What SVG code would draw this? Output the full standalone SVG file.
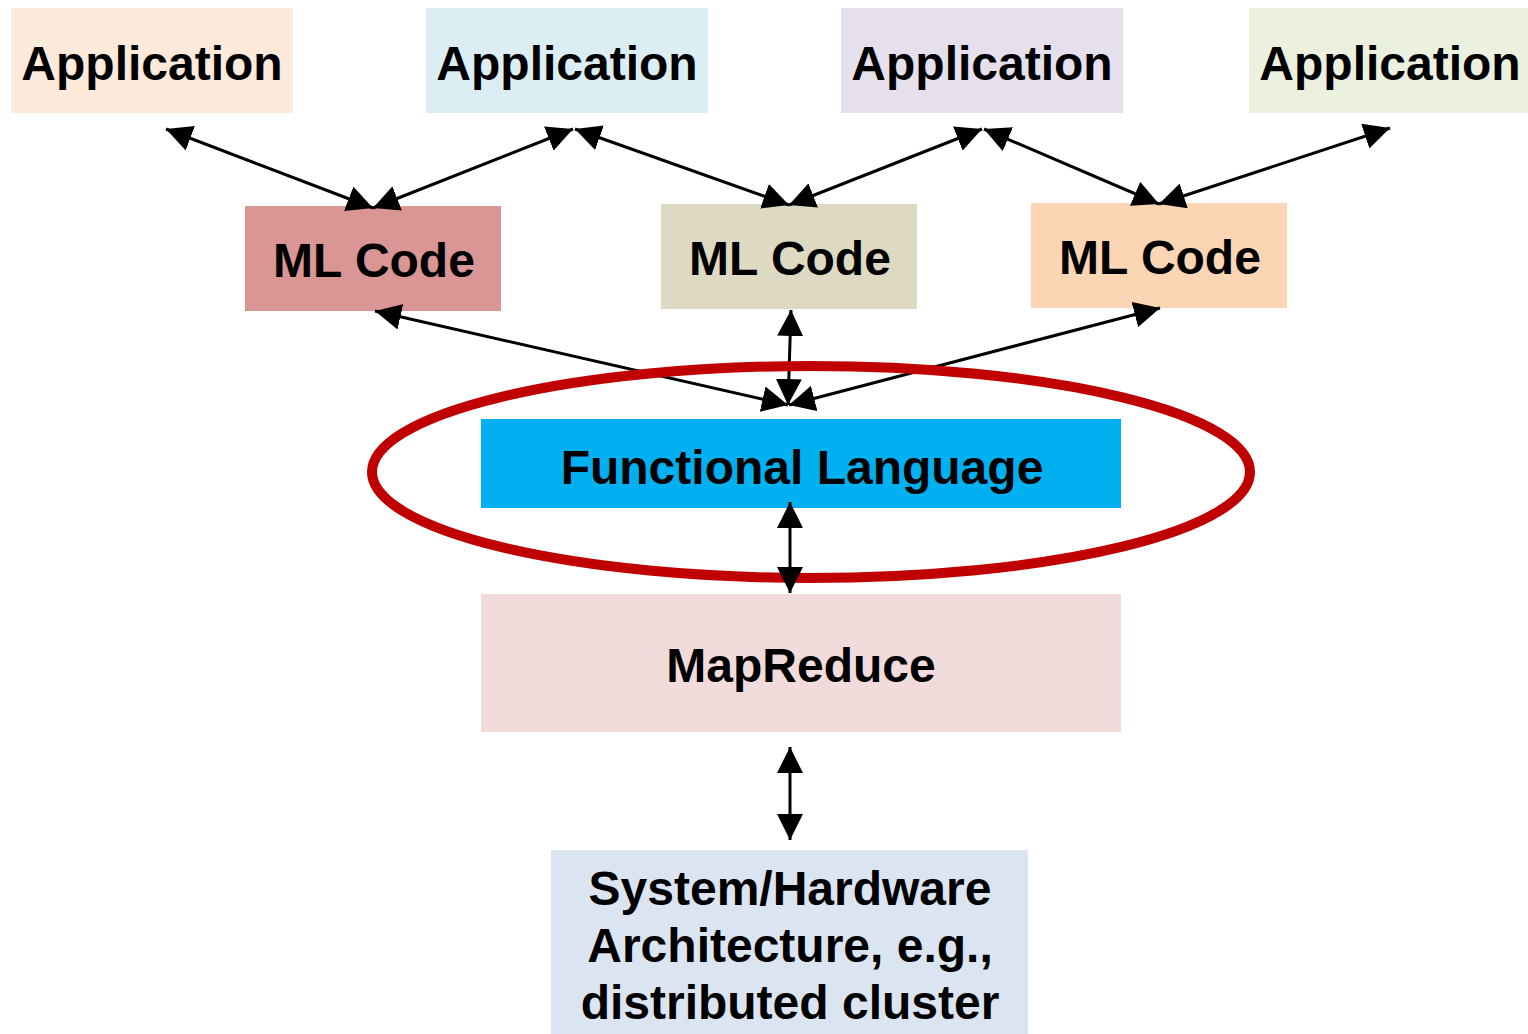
<svg xmlns="http://www.w3.org/2000/svg" width="1528" height="1034" viewBox="0 0 1528 1034">
<style>
text{font-family:"Liberation Sans",Arial,sans-serif;font-weight:bold;font-size:48px;fill:#000;text-anchor:middle}
.c{stroke:#000;stroke-width:3;fill:none;marker-start:url(#ah);marker-end:url(#ah)}
</style>
<defs>
<marker id="ah" viewBox="0 0 26 26" refX="26" refY="13" markerWidth="26" markerHeight="26" markerUnits="userSpaceOnUse" orient="auto-start-reverse">
<path d="M0,0 L26,13 L0,26 Z" fill="#000"/>
</marker>
</defs>
<rect width="1528" height="1034" fill="#fff"/>
<g id="app1"><rect x="11" y="8" width="282" height="105" fill="#FDEADA"/><text x="152" y="80">Application</text></g>
<g id="app2"><rect x="426" y="8" width="282" height="105" fill="#DBEEF3"/><text x="567" y="80">Application</text></g>
<g id="app3"><rect x="841" y="8" width="282" height="105" fill="#E5E0EC"/><text x="982" y="80">Application</text></g>
<g id="app4"><rect x="1249" y="8" width="279" height="105" fill="#EBF1DE"/><text x="1390" y="80">Application</text></g>
<g id="ml1"><rect x="245" y="206" width="256" height="105" fill="#D99694"/><text x="374" y="277">ML Code</text></g>
<g id="ml2"><rect x="661" y="204" width="256" height="105" fill="#DDD9C3"/><text x="790" y="275">ML Code</text></g>
<g id="ml3"><rect x="1031" y="203" width="256" height="105" fill="#FCD5B4"/><text x="1160" y="274">ML Code</text></g>
<g id="func"><rect x="481" y="419" width="640" height="89" fill="#00B0F0"/><text x="802" y="484">Functional Language</text></g>
<g id="mapreduce"><rect x="481" y="594" width="640" height="138" fill="#F2DCDB"/><text x="801" y="682">MapReduce</text></g>
<g id="system"><rect x="551" y="850" width="477" height="184" fill="#DBE5F1"/>
<text x="790" y="905">System/Hardware</text><text x="790" y="962">Architecture, e.g.,</text><text x="790" y="1019">distributed cluster</text></g>
<g id="connectors">
<line class="c" x1="166" y1="129" x2="373" y2="208"/>
<line class="c" x1="373" y1="208" x2="573" y2="129"/>
<line class="c" x1="575" y1="129" x2="789" y2="205"/>
<line class="c" x1="789" y1="205" x2="982" y2="129"/>
<line class="c" x1="984" y1="129" x2="1159" y2="204"/>
<line class="c" x1="1159" y1="204" x2="1390" y2="128"/>
<line class="c" x1="375" y1="311" x2="788" y2="405"/>
<line class="c" x1="791" y1="310" x2="788" y2="405"/>
<line class="c" x1="1160" y1="308" x2="789" y2="405"/>
<ellipse id="ring" cx="811" cy="472" rx="439" ry="106" fill="none" stroke="#C00000" stroke-width="10"/>
<line class="c" x1="790" y1="502" x2="790" y2="593"/>
<line class="c" x1="790" y1="747" x2="790" y2="840"/>
</g>
</svg>
